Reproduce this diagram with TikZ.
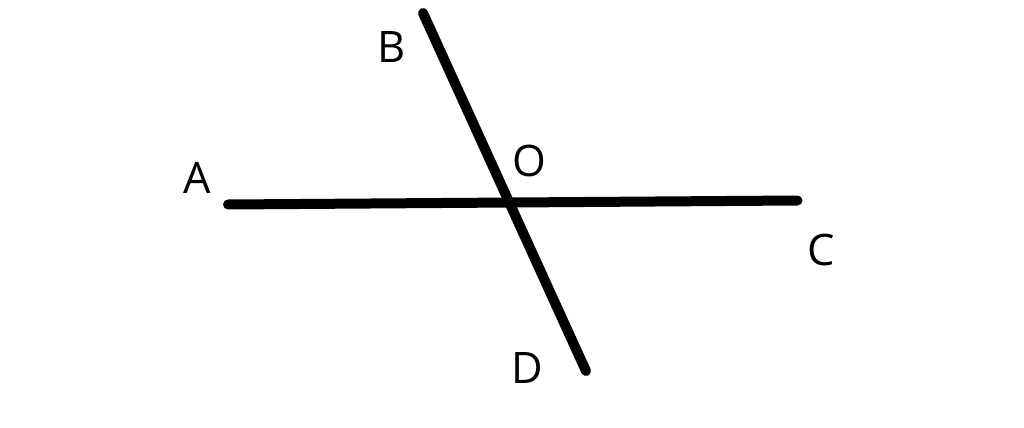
\documentclass[tikz,border=0pt]{standalone}
\usepackage{fontspec}
\setmainfont{Open Sans}
\usepackage{tikz}
\usetikzlibrary{calc}

\begin{document}
\begin{tikzpicture}[x=0.5pt,y=0.5pt,yscale=-1,xscale=1,
  thickline/.style={line width=5pt,line cap=round},
  ptlabel/.style={inner sep=0pt,font=\fontsize{21.7}{26}\selectfont}]
\useasboundingbox (0,0) rectangle (1024,428);

%End points of the two lines
\coordinate (a) at (228,204.5);
\coordinate (c) at (797.5,200.5);
\coordinate (b) at (423,13);
\coordinate (d) at (586,371);

%Straight Lines
\draw [thickline] (a) -- (c);
\draw [thickline] (b) -- (d);

% Text Node
\node [ptlabel] (lblA) at (197,178) {A};
% Text Node
\node [ptlabel] (lblB) at (392,47) {B};
% Text Node
\node [ptlabel] (lblO) at (529,161) {O};
% Text Node
\node [ptlabel] (lblC) at (821,250) {C};
% Text Node
\node [ptlabel] (lblD) at (527,368) {D};

\end{tikzpicture}
\end{document}
